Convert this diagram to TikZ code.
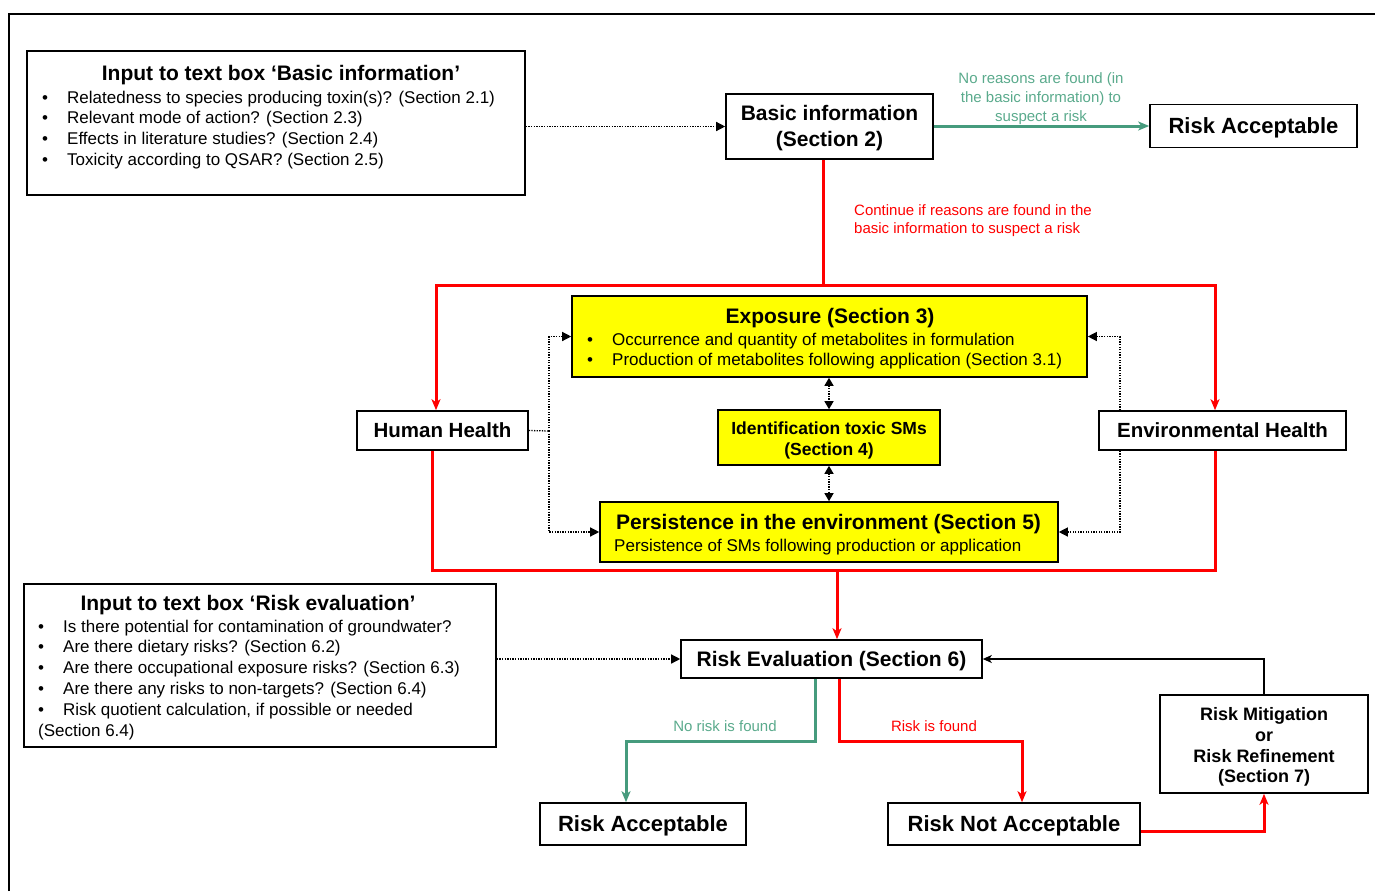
\documentclass[tikz,border=0pt]{standalone}
\usepackage{fontspec}
\setmainfont{Liberation Sans}
\usetikzlibrary{arrows.meta}
\definecolor{flowred}{RGB}{255,0,0}
\definecolor{flowgreen}{RGB}{70,155,125}
\definecolor{labelgreen}{RGB}{90,170,140}
\definecolor{boxyellow}{RGB}{255,255,0}
\newcommand\fsz[2]{\fontsize{#1}{#2}\selectfont}
\newcommand\bul{\makebox[25pt][l]{•}}

\begin{document}
\begin{tikzpicture}[x=1pt,y=-1pt,
  box/.style={draw=black, line width=1.6pt, fill=white, inner sep=0pt, align=center},
  ybox/.style={box, fill=boxyellow},
  oneline/.style={text height=#1, text depth=0pt},
  txt/.style={inner sep=0pt},
  redline/.style={draw=flowred, line width=3pt},
  greenline/.style={draw=flowgreen, line width=3pt},
  dotline/.style={draw=black, line width=1.3pt, dash pattern=on 1.3pt off 1.3pt},
  thinline/.style={draw=black, line width=1.3pt},
  tipR/.style={-{Stealth[length=11pt,width=9pt,inset=3pt]}},
  tipT/.style={-{Triangle[length=9pt,width=9pt]}},
  tipTT/.style={{Triangle[length=8pt,width=9pt]}-{Triangle[length=8pt,width=9pt]}},
  tipS/.style={-{Stealth[length=9pt,width=8pt,inset=2.5pt]}},
]
\useasboundingbox (0,0) rectangle (1375,891);

% outer frame
\draw[line width=2.5pt] (9,891) -- (9,14) -- (1375,14);

% ---- input box: basic information
\node[box, minimum width=498pt, minimum height=144pt] (inbasic) at (276,123) {};
\node[txt, anchor=base, font=\bfseries\fsz{21}{25}] (inbasicT) at (281,81) {Input to text box ‘Basic information’};
\node[txt, anchor=base west, font=\fsz{17}{20.7}] (inbasicL) at (42,103) {%
  \begin{tabular}[t]{@{}l@{}}
  \bul Relatedness to species producing toxin(s)? (Section 2.1)\\
  \bul Relevant mode of action? (Section 2.3)\\
  \bul Effects in literature studies? (Section 2.4)\\
  \bul Toxicity according to QSAR? (Section 2.5)
  \end{tabular}};

% ---- first step and its outcomes
\node[box, minimum width=207pt, minimum height=65pt] (basic) at (829.5,126.5) {};
\node[txt, align=center, font=\bfseries\fsz{21}{26}] (basicT) at (829.5,128.5) {Basic information\\(Section 2)};
\node[box, oneline=15.8pt, minimum width=207pt, minimum height=43pt, font=\bfseries\fsz{22}{26}] (raTop) at (1253.5,126) {Risk Acceptable};

\node[txt, align=center, font=\fsz{15}{19}, text=labelgreen] (lblNo) at (1041,99) {No reasons are found (in\\the basic information) to\\suspect a risk};
\node[txt, align=left, anchor=west, font=\fsz{15}{18}, text=flowred] (lblCont) at (854,221) {Continue if reasons are found in the\\basic information to suspect a risk};

% ---- yellow assessment boxes
\node[ybox, minimum width=515pt, minimum height=81pt] (expo) at (829.5,336.5) {};
\node[txt, anchor=base, font=\bfseries\fsz{21}{25}] (expoT) at (830,323.5) {Exposure (Section 3)};
\node[txt, anchor=base west, font=\fsz{17}{20}] (expoL) at (587,345) {%
  \begin{tabular}[t]{@{}l@{}}
  \bul Occurrence and quantity of metabolites in formulation\\
  \bul Production of metabolites following application (Section 3.1)
  \end{tabular}};

\node[ybox, minimum width=222pt, minimum height=55pt] (ident) at (829,437.5) {};
\node[txt, align=center, font=\bfseries\fsz{17.5}{21}] (identT) at (829,440) {Identification toxic SMs\\(Section 4)};

\node[ybox, minimum width=458pt, minimum height=60pt] (pers) at (829,532) {};
\node[txt, anchor=base west, font=\bfseries\fsz{21}{25}] (persT) at (616,529.5) {Persistence in the environment (Section 5)};
\node[txt, anchor=base west, font=\fsz{17}{20}] (persL) at (614,551) {Persistence of SMs following production or application};

% ---- health boxes
\node[box, oneline=14.8pt, minimum width=171pt, minimum height=39pt, font=\bfseries\fsz{20.5}{24}] (hh) at (442.5,430.5) {Human Health};
\node[box, oneline=14.8pt, minimum width=247pt, minimum height=39pt, font=\bfseries\fsz{20.5}{24}] (eh) at (1222.5,430.5) {Environmental Health};

% ---- risk evaluation
\node[box, oneline=15.1pt, minimum width=301pt, minimum height=38pt, font=\bfseries\fsz{21}{25}] (reval) at (831.5,659) {Risk Evaluation (Section 6)};

\node[box, minimum width=472pt, minimum height=163pt] (inrisk) at (260,665.5) {};
\node[txt, anchor=base, font=\bfseries\fsz{21}{25}] (inriskT) at (248,610.5) {Input to text box ‘Risk evaluation’};
\node[txt, anchor=base west, font=\fsz{17}{20.8}] (inriskL) at (38,632) {%
  \begin{tabular}[t]{@{}l@{}}
  \bul Is there potential for contamination of groundwater?\\
  \bul Are there dietary risks? (Section 6.2)\\
  \bul Are there occupational exposure risks? (Section 6.3)\\
  \bul Are there any risks to non-targets? (Section 6.4)\\
  \bul Risk quotient calculation, if possible or needed\\
  (Section 6.4)
  \end{tabular}};

\node[box, oneline=15.8pt, minimum width=206pt, minimum height=42pt, font=\bfseries\fsz{22}{26}] (raBot) at (643,824) {Risk Acceptable};
\node[box, oneline=15.8pt, minimum width=252pt, minimum height=42pt, font=\bfseries\fsz{22}{26}] (rna) at (1014,824) {Risk Not Acceptable};
\node[box, minimum width=208pt, minimum height=98pt] (mitig) at (1264,744) {};
\node[txt, align=center, font=\bfseries\fsz{18}{20.7}] (mitigT) at (1264,747) {Risk Mitigation\\or\\Risk Refinement\\(Section 7)};

\node[txt, font=\fsz{15}{18}, text=labelgreen] (lblNoRisk) at (725,726) {No risk is found};
\node[txt, font=\fsz{15}{18}, text=flowred] (lblRisk) at (934,726) {Risk is found};

% ---- junction points
\coordinate (split) at (823,285);
\coordinate (merge) at (837,570);
\coordinate (lbus) at (549,431);

% ---- connectors
\draw[dotline,tipT] (inbasic.east |- basic.west) -- (basic.west);
\draw[greenline,tipR] (basic.east |- raTop.west) -- (raTop.west);

\draw[redline] (basic.south -| split) -- (split);
\draw[redline,tipR] (split) -| ([xshift=-6.5pt]hh.north);
\draw[redline,tipR] (split) -| ([xshift=-7.5pt]eh.north);

\draw[dotline] (hh.east) -- (lbus);
\draw[dotline,tipT] (lbus) |- (expo.west);
\draw[dotline,tipT] (lbus) |- (pers.west);
\draw[dotline,tipT] ([xshift=-102.5pt]eh.north) |- (expo.east);
\draw[dotline,tipT] ([xshift=-102.5pt]eh.south) |- (pers.east);
\draw[dotline,tipTT] (ident.north |- expo.south) -- (ident.north);
\draw[dotline,tipTT] (ident.south) -- (ident.south |- pers.north);

\draw[redline] ([xshift=-10.5pt]hh.south) |- (merge) -| ([xshift=-7.5pt]eh.south);
\draw[redline,tipR] (merge) -- (merge |- reval.north);

\draw[dotline,tipT] (inrisk.east |- reval.west) -- (reval.west);

\draw[greenline,tipR] ([xshift=-16.5pt]reval.south) -- ++(0,63) -| ([xshift=-17pt]raBot.north);
\draw[redline,tipR] ([xshift=7.5pt]reval.south) -- ++(0,63) -| ([xshift=8pt]rna.north);
\draw[redline,tipR] ([yshift=-7pt]rna.east) -| (mitig.south);
\draw[thinline,tipS] (mitig.north) |- (reval.east);

\end{tikzpicture}
\end{document}
